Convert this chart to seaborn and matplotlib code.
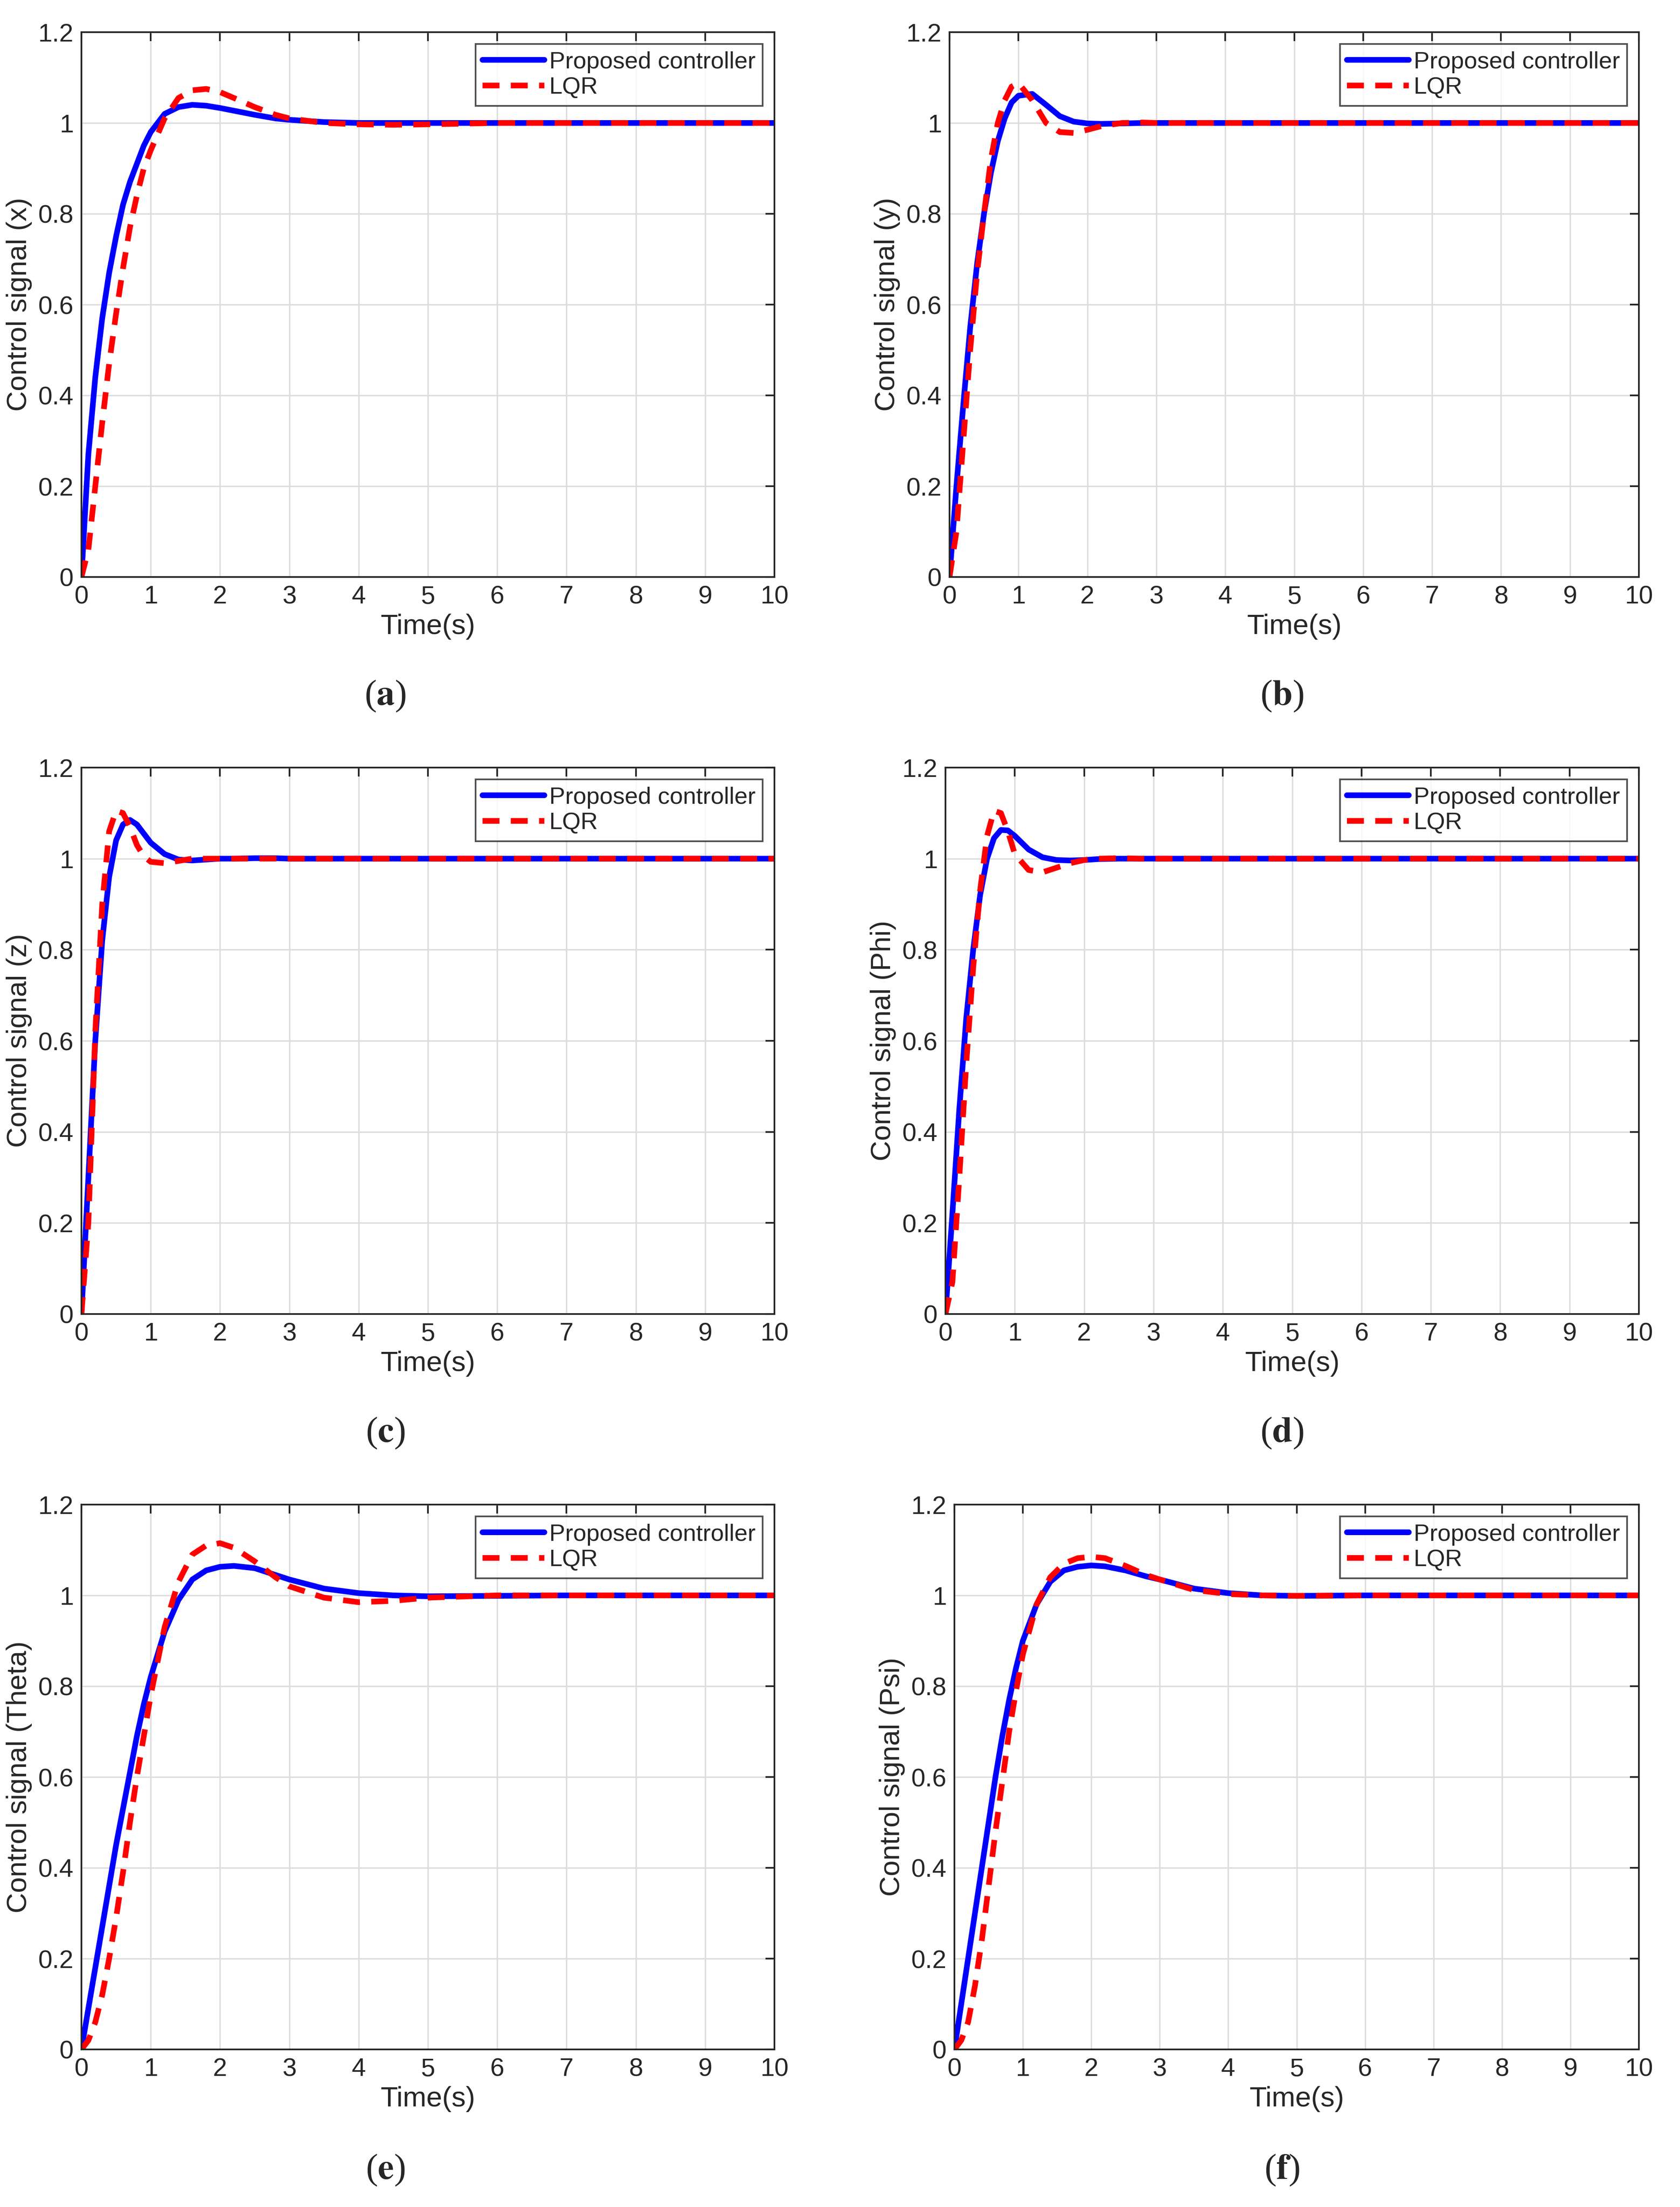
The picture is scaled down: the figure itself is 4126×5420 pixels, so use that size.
import matplotlib
matplotlib.use("Agg")
import matplotlib.pyplot as plt
import numpy as np
import pandas as pd
import seaborn as sns

sns.set_theme(style="white")
plt.rcParams["font.family"] = ["Liberation Sans", "DejaVu Sans"]
plt.rcParams["mathtext.fontset"] = "stix"

time_s = [0, 0.1, 0.2, 0.3, 0.4, 0.5, 0.6, 0.7, 0.8, 0.9, 1.0, 1.2, 1.4, 1.6, 1.8,
          2.0, 2.2, 2.5, 2.8, 3.0, 3.5, 4.0, 4.5, 5.0, 6.0, 7.0, 8.0, 9.0, 10.0]

prop_x = [0, .27, .44, .57, .67, .75, .82, .87, .91, .95, .98, 1.02, 1.035, 1.04, 1.038,
          1.033, 1.027, 1.018, 1.01, 1.007, 1.002, 1.0, 1, 1, 1, 1, 1, 1, 1]
lqr_x = [0, .06, .20, .34, .47, .58, .68, .77, .84, .90, .94, 1.01, 1.055, 1.072, 1.075,
         1.068, 1.055, 1.035, 1.018, 1.01, 1.0, .997, .996, .997, 1, 1, 1, 1, 1]
prop_y = [0, .20, .38, .55, .69, .80, .89, .96, 1.01, 1.045, 1.06, 1.064, 1.04, 1.015, 1.003,
          .999, .998, .999, 1, 1, 1, 1, 1, 1, 1, 1, 1, 1, 1]
lqr_y = [0, .10, .30, .50, .67, .80, .92, 1.0, 1.05, 1.08, 1.088, 1.05, 1.0, .98, .978,
         .985, .993, 1.0, 1.001, 1.0, 1, 1, 1, 1, 1, 1, 1, 1, 1]
prop_z = [0, .30, .60, .82, .96, 1.04, 1.075, 1.085, 1.075, 1.055, 1.035, 1.01, .998, .996, .998,
          1.0, 1.0, 1.001, 1.001, 1.0, 1, 1, 1, 1, 1, 1, 1, 1, 1]
lqr_z = [0, .20, .62, .90, 1.06, 1.105, 1.10, 1.07, 1.03, 1.005, .993, .99, .995, 1.0, 1.0,
         1, 1, 1, 1, 1, 1, 1, 1, 1, 1, 1, 1, 1, 1]
prop_phi = [0, .22, .45, .65, .80, .92, 1.0, 1.045, 1.063, 1.062, 1.05, 1.02, 1.003, .997, .996,
            .997, .999, 1.0, 1, 1, 1, 1, 1, 1, 1, 1, 1, 1, 1]
lqr_phi = [0, .07, .30, .55, .76, .93, 1.05, 1.105, 1.10, 1.06, 1.01, .975, .97, .98, .99,
           .997, 1.0, 1.001, 1.0, 1, 1, 1, 1, 1, 1, 1, 1, 1, 1]
prop_theta = [0, .09, .18, .27, .36, .45, .53, .61, .69, .76, .82, .92, .99, 1.035, 1.055,
              1.063, 1.065, 1.06, 1.045, 1.035, 1.015, 1.005, 1.0, .998, .999, 1, 1, 1, 1]
lqr_theta = [0, .02, .06, .12, .20, .29, .39, .50, .60, .69, .78, .93, 1.03, 1.09, 1.11,
             1.115, 1.105, 1.075, 1.04, 1.02, .995, .985, .988, .995, 1.0, 1, 1, 1, 1]
prop_psi = [0, .10, .20, .30, .40, .50, .60, .69, .77, .84, .90, .98, 1.03, 1.055, 1.063,
            1.066, 1.064, 1.055, 1.042, 1.035, 1.015, 1.005, 1.0, .999, 1, 1, 1, 1, 1]
lqr_psi = [0, .02, .06, .14, .24, .36, .48, .59, .70, .79, .87, .98, 1.04, 1.07, 1.082,
           1.085, 1.082, 1.065, 1.045, 1.035, 1.012, 1.003, 1.0, .999, 1, 1, 1, 1, 1]

panels = [
    ("x", "a", prop_x, lqr_x),
    ("y", "b", prop_y, lqr_y),
    ("z", "c", prop_z, lqr_z),
    ("Phi", "d", prop_phi, lqr_phi),
    ("Theta", "e", prop_theta, lqr_theta),
    ("Psi", "f", prop_psi, lqr_psi),
]

W, H = 4126, 5420
fig = plt.figure(figsize=(W / 100, H / 100), dpi=100)

# axes boxes in pixel coords
lefts = [(200, 1902), (2332, 4025)]
rows = [(79, 1417), (1885, 3227), (3695, 5033)]
caption_y = [1710, 3520, 5330]
caption_x = [946, 3148]

for i, (name, letter, prop, lqr) in enumerate(panels):
    r, c = divmod(i, 2)
    l, rr = lefts[c]
    t, b = rows[r]
    if i == 3:
        l -= 10
    if i == 5:
        l += 12
    ax = fig.add_axes([l / W, 1 - b / H, (rr - l) / W, (b - t) / H])
    df = pd.DataFrame({
        "t": time_s * 2,
        "v": prop + lqr,
        "s": ["Proposed controller"] * len(time_s) + ["LQR"] * len(time_s),
    })
    sns.lineplot(data=df, x="t", y="v", hue="s", style="s",
                 palette={"Proposed controller": "#0000ff", "LQR": "#ff0000"},
                 dashes={"Proposed controller": "", "LQR": (3, 2)},
                 linewidth=10, ax=ax)
    ax.set_xlim(0, 10)
    ax.set_ylim(0, 1.2)
    ax.set_xticks(range(0, 11))
    ax.set_yticks([0, 0.2, 0.4, 0.6, 0.8, 1.0, 1.2])
    ax.set_yticklabels(["0", "0.2", "0.4", "0.6", "0.8", "1", "1.2"])
    ax.grid(True, color="#dcdcdc", linewidth=2.5)
    ax.tick_params(direction="in", length=16, width=3, labelsize=45, pad=14,
                   top=True, right=True, colors="#262626")
    for sp in ax.spines.values():
        sp.set_linewidth(3)
        sp.set_color("#262626")
    ax.set_xlabel("Time(s)", fontsize=50, color="#262626", labelpad=8)
    ax.set_ylabel(f"Control signal ({name})", fontsize=50, color="#262626", labelpad=10)
    leg = ax.legend(loc="upper right", fontsize=42, frameon=True, fancybox=False,
                    handlelength=2.6, borderaxespad=0.5, handletextpad=0.2,
                    labelspacing=0.15, borderpad=0.3)
    leg.get_frame().set_edgecolor("#262626")
    leg.get_frame().set_linewidth(3)
    fig.text(caption_x[c] / W, 1 - caption_y[r] / H, rf"($\mathbf{{{letter}}}$)",
             ha="center", va="center", fontsize=64, family="Liberation Serif")

fig.savefig("out.png", dpi=100)
